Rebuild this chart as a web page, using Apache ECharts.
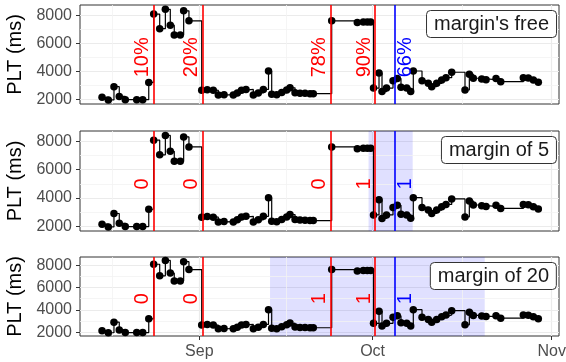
<!DOCTYPE html>
<html><head><meta charset="utf-8">
<script src="https://cdn.jsdelivr.net/npm/echarts@6/dist/echarts.min.js"></script>
<style>html,body{margin:0;padding:0;background:#fff}#c{width:566px;height:362px}</style>
</head><body><div id="c"></div>
<script>
const dates = [
'2019-08-15 04:00','2019-08-16 06:00','2019-08-17 05:30','2019-08-18 03:30','2019-08-19 04:30','2019-08-21 04:00','2019-08-22 05:00','2019-08-23 06:00',
'2019-08-24 02:30','2019-08-25 03:30','2019-08-26 03:00','2019-08-26 23:30','2019-08-27 16:00','2019-08-28 17:00','2019-08-29 07:00','2019-08-30 05:00',
'2019-09-01 10:00','2019-09-02 09:00','2019-09-03 10:00','2019-09-04 07:00','2019-09-05 06:45','2019-09-06 21:15','2019-09-07 14:00','2019-09-08 07:15','2019-09-09 02:00','2019-09-10 08:25',
'2019-09-11 05:00','2019-09-12 02:00','2019-09-12 23:30','2019-09-13 12:45','2019-09-14 09:30','2019-09-15 06:15','2019-09-16 03:00','2019-09-16 16:50','2019-09-17 13:40','2019-09-18 10:20',
'2019-09-19 07:10','2019-09-20 03:50','2019-09-20 17:30',
'2019-09-23 22:00','2019-09-28 08:25','2019-09-29 09:20','2019-09-30 02:00','2019-09-30 16:00',
'2019-10-01 03:40','2019-10-02 02:35','2019-10-02 15:00','2019-10-03 09:40','2019-10-04 12:40','2019-10-05 06:30','2019-10-05 21:50','2019-10-06 21:35','2019-10-07 14:10','2019-10-08 01:00',
'2019-10-09 13:10','2019-10-10 15:20','2019-10-11 05:30','2019-10-12 02:10','2019-10-12 23:00','2019-10-13 16:50','2019-10-14 16:30','2019-10-16 23:45','2019-10-17 17:45','2019-10-18 10:20',
'2019-10-19 21:10','2019-10-20 15:10','2019-10-22 08:40','2019-10-23 04:05','2019-10-27 02:00','2019-10-27 22:50','2019-10-28 19:40','2019-10-29 16:20'
];
const plt = [
2140,1950,2900,2200,1970,1970,1970,3200,
8090,7050,8430,7300,6590,6590,8320,7610,
2640,2680,2640,2300,2330,2300,2450,2650,2700,2300,
2450,2700,4020,2350,2320,2480,2660,2820,2470,2430,
2420,2400,2400,
7610,7490,7520,7520,7520,
2800,3880,2550,2800,3330,3480,2850,2800,2560,4020,
3330,3140,2900,3140,3380,3540,3930,2660,3790,3500,
3450,3400,3480,3260,3540,3520,3380,3210
];
const redLineDates = ['2019-08-24 02:30','2019-09-01 14:00','2019-09-23 18:00','2019-10-01 10:00'];
const blueLineDates = ['2019-10-04 18:00'];
const panelTitles = ["margin's free", "margin of 5", "margin of 20"];
const redLabels = [['10%','20%','78%','90%'], ['0','0','0','1'], ['0','0','1','1']];
const blueLabels = [['66%'], ['1'], ['1']];
const shadeRanges = [null, ['2019-09-30 07:00','2019-10-07 22:30'], ['2019-09-13 05:45','2019-10-20 09:40']];
const monthTicks = ['2019-09-01 00:00','2019-10-01 00:00','2019-11-01 00:00'];
const monthLabels = ['Sep','Oct','Nov'];
const minorXGrid = ['2019-08-16 22:30','2019-09-16 00:00','2019-10-16 12:00'];
const yTicks = [2000, 4000, 6000, 8000];
const minorYGrid = [3000, 5000, 7000];
const labelY = 5000;
const xRange = ['2019-08-11 08:24','2019-11-02 06:15'];
const yRange = [1660, 8740];

const FONT = '"Liberation Sans", Arial, Helvetica, sans-serif';
const ts = s => new Date(s.replace(' ', 'T') + ':00').getTime();
const monthTs = monthTicks.map(ts);
const gridBoxes = [
  {left: 80, top: 5, width: 479, height: 99},
  {left: 80, top: 131, width: 479, height: 100},
  {left: 80, top: 257, width: 479, height: 79}
];
const titleTops = [10, 136, 262];

const chart = echarts.init(document.getElementById('c'), null, {renderer: 'canvas'});
const grid = [], xAxis = [], yAxis = [], series = [], title = [];
const seriesData = dates.map((d, k) => [ts(d), plt[k]]);

for (let i = 0; i < 3; i++) {
  grid.push(Object.assign({show: true, borderColor: '#333333', borderWidth: 1, backgroundColor: '#fff',
    containLabel: false, outerBoundsMode: 'none'}, gridBoxes[i]));
  xAxis.push({
    type: 'value', gridIndex: i, min: ts(xRange[0]), max: ts(xRange[1]),
    axisLine: {show: false},
    axisTick: {show: i === 2, customValues: monthTs, length: 4, lineStyle: {color: '#333333', width: 1}},
    axisLabel: {show: i === 2, customValues: monthTs, color: '#4d4d4d', fontSize: 16, fontFamily: FONT, margin: 8,
      formatter: v => { const k = monthTs.findIndex(t => Math.abs(t - v) < 3600000); return k >= 0 ? monthLabels[k] : ''; }},
    splitLine: {show: true, lineStyle: {color: '#ebebeb', width: 1.2}}
  });
  yAxis.push({
    type: 'value', gridIndex: i, min: yRange[0], max: yRange[1],
    axisLine: {show: false},
    axisTick: {show: true, customValues: yTicks, length: 4, lineStyle: {color: '#333333', width: 1}},
    axisLabel: {customValues: yTicks, color: '#4d4d4d', fontSize: 16, fontFamily: FONT, margin: 8, formatter: v => String(v)},
    splitLine: {show: true, lineStyle: {color: '#ebebeb', width: 1.2}},
    name: 'PLT (ms)', nameLocation: 'middle', nameGap: 52,
    nameTextStyle: {fontSize: 20, color: '#000', fontFamily: FONT}
  });
  title.push({
    text: panelTitles[i], right: 9, top: titleTops[i], padding: [4, 8],
    borderWidth: 1, borderColor: '#333333', borderRadius: 4, backgroundColor: '#fff',
    textStyle: {fontSize: 20, fontWeight: 'normal', color: '#1a1a1a', fontFamily: FONT, lineHeight: 20}
  });
  series.push({
    type: 'line', xAxisIndex: i, yAxisIndex: i, data: [], z: 1, silent: true,
    markLine: {silent: true, z: 1, symbol: 'none', label: {show: false}, animation: false,
      lineStyle: {color: '#f3f3f3', width: 0.8, type: 'solid'},
      data: minorXGrid.map(d => ({xAxis: ts(d)})).concat(minorYGrid.map(v => ({yAxis: v})))}
  });
  if (shadeRanges[i]) {
    series.push({
      type: 'line', xAxisIndex: i, yAxisIndex: i, data: [], z: 1, silent: true,
      markArea: {silent: true, z: 1, itemStyle: {color: 'rgba(0,0,255,0.12)'},
        data: [[{xAxis: ts(shadeRanges[i][0])}, {xAxis: ts(shadeRanges[i][1])}]]}
    });
  }
  series.push({
    type: 'line', xAxisIndex: i, yAxisIndex: i, data: seriesData, step: 'end', z: 3, silent: true,
    showSymbol: false, lineStyle: {color: '#000', width: 1.2}
  });
  series.push({
    type: 'scatter', xAxisIndex: i, yAxisIndex: i, data: seriesData, z: 3, silent: true,
    symbol: 'circle', symbolSize: 7.5, itemStyle: {color: '#000', opacity: 1}
  });
  series.push({
    type: 'line', xAxisIndex: i, yAxisIndex: i, data: [], z: 4, silent: true,
    markLine: {silent: true, z: 4, symbol: 'none', label: {show: false}, animation: false,
      data: redLineDates.map(d => ({xAxis: ts(d), lineStyle: {color: '#ff0000', width: 1.6, type: 'solid'}}))
        .concat(blueLineDates.map(d => ({xAxis: ts(d), lineStyle: {color: '#0000ff', width: 1.6, type: 'solid'}})))}
  });
  const items = redLineDates.map((d, k) => ({t: ts(d), text: redLabels[i][k], color: '#ff0000', side: -1}))
    .concat(blueLineDates.map((d, k) => ({t: ts(d), text: blueLabels[i][k], color: '#0000ff', side: 1})));
  series.push({
    type: 'custom', xAxisIndex: i, yAxisIndex: i, z: 6, silent: true,
    data: items.map(o => [o.t, labelY]),
    renderItem: (params, api) => {
      const o = items[params.dataIndex];
      const p = api.coord([api.value(0), api.value(1)]);
      return {type: 'text', x: p[0] + o.side * 11, y: p[1], rotation: Math.PI / 2,
        style: {text: o.text, fill: o.color, font: '20px ' + FONT, align: 'center', verticalAlign: 'middle'}};
    }
  });
}

chart.setOption({animation: false, backgroundColor: '#fff', title, grid, xAxis, yAxis, series});
</script>
</body></html>
